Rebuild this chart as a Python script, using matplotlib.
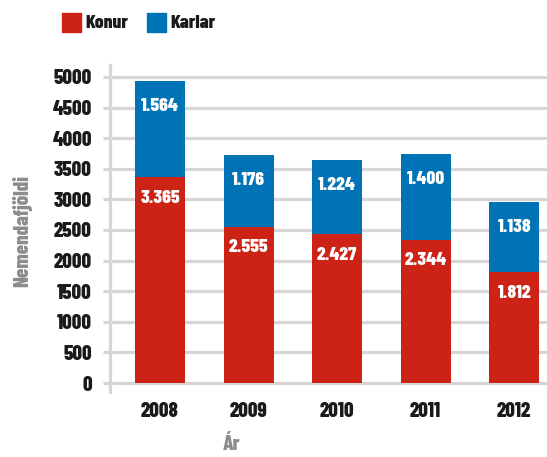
import matplotlib
matplotlib.use('Agg')
import matplotlib.pyplot as plt
from matplotlib.patches import Rectangle

years = ['2008', '2009', '2010', '2011', '2012']
konur = [3365, 2555, 2427, 2344, 1812]
karlar = [1564, 1176, 1224, 1400, 1138]
yticks = [0, 500, 1000, 1500, 2000, 2500, 3000, 3500, 4000, 4500, 5000]

RED = '#cd2316'
BLUE = '#0072b6'
GRID = '#d9d4d6'
INK = '#1a1a1a'
WT = 800

plt.rcParams['font.family'] = ['Barlow Condensed', 'Roboto Condensed', 'DejaVu Sans']
plt.rcParams['font.weight'] = WT

def fmt(v):
    return '{:,}'.format(v).replace(',', '.')

fig = plt.figure(figsize=(5.47, 4.57), dpi=100)
ax = fig.add_axes([110 / 547, 65 / 457, 437 / 547, 327 / 457])

x = list(range(len(years)))
w = 0.565
ax.bar(x, konur, width=w, color=RED, zorder=3)
ax.bar(x, karlar, width=w, bottom=konur, color=BLUE, zorder=3)

for i in x:
    ax.annotate(fmt(konur[i]), (i, konur[i]), xytext=(0, -15), textcoords='offset points',
                ha='center', va='center', color='white', fontsize=14, fontweight=WT, zorder=4)
    ax.annotate(fmt(karlar[i]), (i, konur[i] + karlar[i]), xytext=(0, -18), textcoords='offset points',
                ha='center', va='center', color='white', fontsize=14, fontweight=WT, zorder=4)

ax.set_xlim(-0.565, 4.37)
ax.set_ylim(-147, 5196)
ax.set_yticks(yticks)
ax.set_xticks(x)
ax.set_xticklabels(years)
ax.yaxis.grid(True, color=GRID, linewidth=2.3, zorder=1)
ax.set_axisbelow(True)

for s in ['top', 'right', 'bottom']:
    ax.spines[s].set_visible(False)
ax.spines['left'].set_color(GRID)
ax.spines['left'].set_linewidth(2.3)

ax.tick_params(axis='y', length=5, width=2.3, color=GRID, pad=8, labelsize=15)
ax.tick_params(axis='x', length=0, pad=7, labelsize=15)
for lbl in ax.get_yticklabels() + ax.get_xticklabels():
    lbl.set_color(INK)
    lbl.set_fontweight(WT)

fig.text(22 / 547, 1 - 231 / 457, 'Nemendafjöldi', rotation=90, ha='center', va='center',
         color='#8c8c8c', fontsize=15, fontweight=WT)
fig.text(232 / 547, 1 - 444 / 457, 'Ár', ha='center', va='center',
         color='#8c8c8c', fontsize=15, fontweight=WT)

# legend
fig.patches.append(Rectangle((62 / 547, 1 - 32 / 457), 19 / 547, 19 / 457,
                             transform=fig.transFigure, color=RED))
fig.text(85 / 547, 1 - 23 / 457, 'Konur', ha='left', va='center', fontsize=14,
         fontweight=WT, color=INK)
fig.patches.append(Rectangle((147 / 547, 1 - 32 / 457), 19 / 547, 19 / 457,
                             transform=fig.transFigure, color=BLUE))
fig.text(170 / 547, 1 - 23 / 457, 'Karlar', ha='left', va='center', fontsize=14,
         fontweight=WT, color=INK)

fig.savefig('out.png', dpi=100)
